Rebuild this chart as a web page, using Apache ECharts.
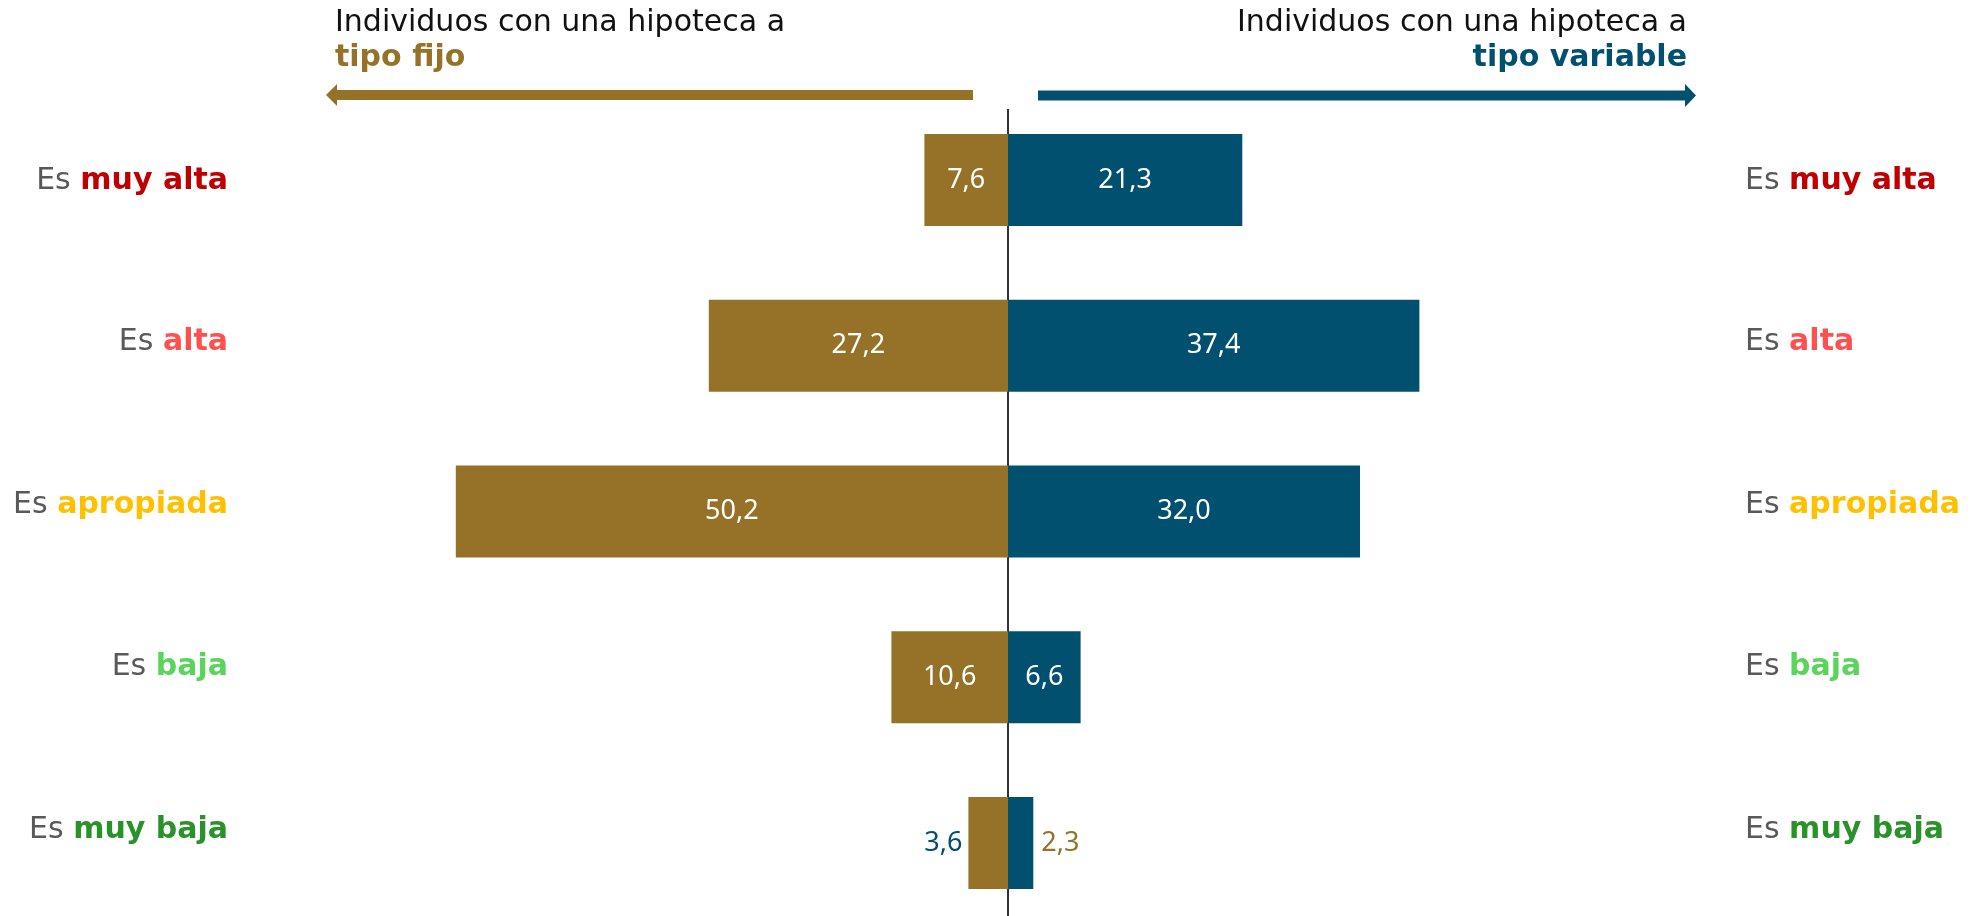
<!DOCTYPE html>
<html>
<head>
<meta charset="utf-8">
<script src="https://cdn.jsdelivr.net/npm/echarts@6/dist/echarts.min.js"></script>
<style>
html, body { margin: 0; padding: 0; background: #fff; }
#chart { width: 1977px; height: 916px; }
</style>
</head>
<body>
<div id="chart"></div>
<script>
// categorías, de arriba abajo
const categorias = ['muy alta', 'alta', 'apropiada', 'baja', 'muy baja'];
const coloresCategoria = ['#C00000', '#FF5050', '#FFC000', '#5AD45A', '#2A922A'];
// % de individuos
const tipoFijo = [7.6, 27.2, 50.2, 10.6, 3.6];
const tipoVariable = [21.3, 37.4, 32.0, 6.6, 2.3];

const ORO = '#967228';
const AZUL = '#015070';
const FUENTE = "'DejaVu Sans', sans-serif";
const FUENTE_NUM = "'Noto Sans', sans-serif";

// en el original las etiquetas de categoría suben un poco respecto a las barras
const subida = [-1, 3, 6, 10, 13];

const fmt = v => Math.abs(v).toFixed(1).replace('.', ',');

// estilos rich para las etiquetas de categoría
const rich = {};
coloresCategoria.forEach((c, i) => {
  const pad = subida[i] >= 0 ? [0, 0, subida[i] * 2, 0] : [-subida[i] * 2, 0, 0, 0];
  rich['es' + i] = { color: '#595959', fontSize: 30, fontFamily: FUENTE, padding: pad };
  rich['c' + i] = { color: c, fontSize: 30, fontWeight: 'bold', fontFamily: FUENTE, padding: pad };
});

const etiquetaCat = (value, index) => `{es${index}|Es }{c${index}|${value}}`;

const chart = echarts.init(document.getElementById('chart'));

const option = {
  animation: false,
  grid: { left: 348, right: 309, top: 97, height: 829, outerBoundsMode: 'none' },
  xAxis: {
    type: 'value',
    min: -60,
    max: 60,
    show: false
  },
  yAxis: [
    {
      type: 'category',
      inverse: true,
      data: categorias,
      axisLine: { show: false },
      axisTick: { show: false },
      axisLabel: { margin: 120, formatter: etiquetaCat, rich: rich }
    },
    {
      type: 'category',
      inverse: true,
      position: 'right',
      data: categorias,
      axisLine: { show: false },
      axisTick: { show: false },
      axisLabel: { margin: 77, formatter: etiquetaCat, rich: rich }
    }
  ],
  series: [
    {
      name: 'Tipo fijo',
      type: 'bar',
      stack: 'total',
      barWidth: 92,
      itemStyle: { color: ORO },
      label: {
        show: true,
        position: 'inside',
        color: '#fff',
        fontSize: 27,
        fontFamily: FUENTE_NUM,
        formatter: p => fmt(p.value)
      },
      data: tipoFijo.map((v, i) => i === 4
        ? { value: -v, label: { position: 'left', color: AZUL, distance: 6 } }
        : -v)
    },
    {
      name: 'Tipo variable',
      type: 'bar',
      stack: 'total',
      barWidth: 92,
      itemStyle: { color: AZUL },
      label: {
        show: true,
        position: 'inside',
        color: '#fff',
        fontSize: 27,
        fontFamily: FUENTE_NUM,
        formatter: p => fmt(p.value)
      },
      data: tipoVariable.map((v, i) => i === 4
        ? { value: v, label: { position: 'right', color: ORO, distance: 8 } }
        : v)
    }
  ]
};

chart.setOption(option);

// eje central, flechas y textos de cabecera
const x0 = chart.convertToPixel({ xAxisIndex: 0 }, 0);
const cabecera = { fontSize: 30, fontFamily: FUENTE, fill: '#111' };

chart.setOption({
  graphic: [
    { type: 'line', shape: { x1: x0, y1: 109, x2: x0, y2: 916 }, style: { stroke: '#333', lineWidth: 2 } },
    // flecha izquierda
    { type: 'rect', shape: { x: 336, y: 90, width: 637, height: 10 }, style: { fill: ORO } },
    { type: 'polygon', shape: { points: [[326, 95], [337, 84], [337, 106]] }, style: { fill: ORO } },
    // flecha derecha
    { type: 'rect', shape: { x: 1038, y: 90.5, width: 648, height: 10 }, style: { fill: AZUL } },
    { type: 'polygon', shape: { points: [[1685, 84], [1696, 95.5], [1685, 107]] }, style: { fill: AZUL } },
    // textos
    { type: 'text', x: 335, y: 23, style: Object.assign({ text: 'Individuos con una hipoteca a', verticalAlign: 'middle', align: 'left' }, cabecera) },
    { type: 'text', x: 335, y: 58, style: Object.assign({}, cabecera, { text: 'tipo fijo', fill: ORO, fontWeight: 'bold', verticalAlign: 'middle', align: 'left' }) },
    { type: 'text', x: 1687, y: 23, style: Object.assign({ text: 'Individuos con una hipoteca a', verticalAlign: 'middle', align: 'right' }, cabecera) },
    { type: 'text', x: 1687, y: 58, style: Object.assign({}, cabecera, { text: 'tipo variable', fill: AZUL, fontWeight: 'bold', verticalAlign: 'middle', align: 'right' }) }
  ]
});
</script>
</body>
</html>
